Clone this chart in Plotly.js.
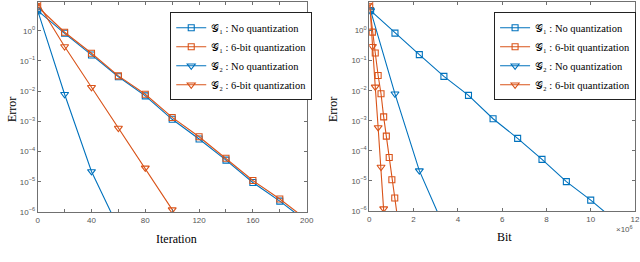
<!DOCTYPE html>
<html><head>
<script src="https://cdn.plot.ly/plotly-3.0.1.min.js"></script>
<style>html,body{margin:0;padding:0;background:#fff;overflow:hidden}</style>
</head><body>
<div id="c" style="width:640px;height:262px"></div>
<script>
// ---- data ----
const iterG1 = [0,20,40,60,80,100,120,140,160,180,200];
const errG1NoQ = [4.6,0.82,0.158,0.030,0.0070,0.00117,2.6e-4,5.2e-5,9.5e-6,2.3e-6,4.8e-7];
const errG1Q6  = [6.2,0.89,0.18,0.032,0.0079,0.00135,3.1e-4,6.0e-5,1.1e-5,2.7e-6,5.6e-7];
const iterG2NoQ = [0,20,40,60];
const errG2NoQ = [4.6,0.0079,2.2e-5,3.0e-7];
const iterG2Q6 = [0,20,40,60,80,100,120];
const errG2Q6  = [8.4,0.30,0.0134,6.0e-4,2.9e-5,1.2e-6,5.0e-8];

const bitG1NoQ = [0.06,1.16,2.26,3.37,4.48,5.59,6.70,7.80,8.90,10.0,11.1];
const bitG2NoQ = [0.06,1.16,2.26,3.37];
const bitG1Q6  = [0.02,0.14,0.27,0.40,0.53,0.65,0.77,0.90,1.02,1.15,1.28];
const bitG2Q6  = [0.02,0.14,0.27,0.40,0.53,0.65,0.77];

const names = ['𝒢₁ : No quantization','𝒢₁ : 6-bit quantization',
               '𝒢₂ : No quantization','𝒢₂ : 6-bit quantization'];
const yTickVals = [1,1e-1,1e-2,1e-3,1e-4,1e-5,1e-6];
const yTickText = ['10<sup>0</sup>','10<sup>−1</sup>','10<sup>−2</sup>','10<sup>−3</sup>','10<sup>−4</sup>','10<sup>−5</sup>','10<sup>−6</sup>'];

const BLUE='#0072BD', ORANGE='#D95319';
function tr(x,y,name,color,sym,xa,ya,leg){
  return {x:x,y:y,name:name,type:'scatter',mode:'lines+markers',xaxis:xa,yaxis:ya,legend:leg,
    line:{color:color,width:1.1},
    marker:{symbol:sym,size:sym==='square-open'?6:7,color:color,line:{width:1.1,color:color}},
    cliponaxis:true};
}
const data=[
  tr(iterG1,errG1NoQ,names[0],BLUE,'square-open','x','y','legend'),
  tr(iterG1,errG1Q6,names[1],ORANGE,'square-open','x','y','legend'),
  tr(iterG2NoQ,errG2NoQ,names[2],BLUE,'triangle-down-open','x','y','legend'),
  tr(iterG2Q6,errG2Q6,names[3],ORANGE,'triangle-down-open','x','y','legend'),
  tr(bitG1NoQ,errG1NoQ,names[0],BLUE,'square-open','x2','y2','legend2'),
  tr(bitG1Q6,errG1Q6,names[1],ORANGE,'square-open','x2','y2','legend2'),
  tr(bitG2NoQ,errG2NoQ,names[2],BLUE,'triangle-down-open','x2','y2','legend2'),
  tr(bitG2Q6,errG2Q6,names[3],ORANGE,'triangle-down-open','x2','y2','legend2')
];
const LC='#707070';
const tickFont={family:'Liberation Sans, Arial, sans-serif',size:8,color:'#555'};
function xax(dom,range,dtick,minor){
  const a={domain:dom,range:range,dtick:dtick,tick0:0,showline:true,linecolor:LC,linewidth:1,mirror:'ticks',
    ticks:'inside',ticklen:3,tickcolor:LC,showgrid:false,zeroline:false,tickfont:tickFont,ticklabeloverflow:'allow'};
  if(minor) a.minor={dtick:minor,ticks:'inside',ticklen:3,tickcolor:LC,showgrid:false};
  return a;
}
function yax(dom){
  return {domain:dom,type:'log',range:[-6,0.94],tickvals:yTickVals,ticktext:yTickText,showline:true,linecolor:LC,
    linewidth:1,mirror:'ticks',ticks:'inside',ticklen:3,tickcolor:LC,showgrid:false,zeroline:false,tickfont:tickFont};
}
const legBase={bgcolor:'#fff',bordercolor:'#222',borderwidth:1,xanchor:'left',yanchor:'top',
  font:{family:'Liberation Serif, DejaVu Serif, serif',size:10.5,color:'#000'},itemwidth:30,tracegroupgap:0};
const serif={family:'Liberation Serif, DejaVu Serif, serif',size:12,color:'#000'};
const layout={
  width:640,height:262,margin:{l:0,r:0,t:0,b:0},paper_bgcolor:'#fff',plot_bgcolor:'#fff',
  showlegend:true,
  xaxis:Object.assign(xax([0.0589,0.4792],[0,200],40,20),{anchor:'y'}),
  yaxis:Object.assign(yax([0.1908,0.9912]),{anchor:'x'}),
  xaxis2:Object.assign(xax([0.5770,0.9922],[0,12],2,null),{anchor:'y2'}),
  yaxis2:Object.assign(yax([0.1947,0.9912]),{anchor:'x2'}),
  legend:Object.assign({x:0.266,y:0.953},legBase),
  legend2:Object.assign({x:0.772,y:0.953},legBase),
  annotations:[
    {text:'Error',xref:'paper',yref:'paper',x:12/640,y:1-110/262,textangle:-90,showarrow:false,font:serif,xanchor:'center',yanchor:'middle'},
    {text:'Error',xref:'paper',yref:'paper',x:333/640,y:1-110/262,textangle:-90,showarrow:false,font:serif,xanchor:'center',yanchor:'middle'},
    {text:'Iteration',xref:'paper',yref:'paper',x:176/640,y:1-239/262,showarrow:false,font:serif,xanchor:'center',yanchor:'middle'},
    {text:'Bit',xref:'paper',yref:'paper',x:504/640,y:1-237/262,showarrow:false,font:serif,xanchor:'center',yanchor:'middle'},
    {text:'×10<sup>6</sup>',xref:'paper',yref:'paper',x:624/640,y:1-229/262,showarrow:false,font:tickFont,xanchor:'center',yanchor:'middle'}
  ]
};
Plotly.newPlot('c',data,layout,{staticPlot:true});
</script>
</body></html>
